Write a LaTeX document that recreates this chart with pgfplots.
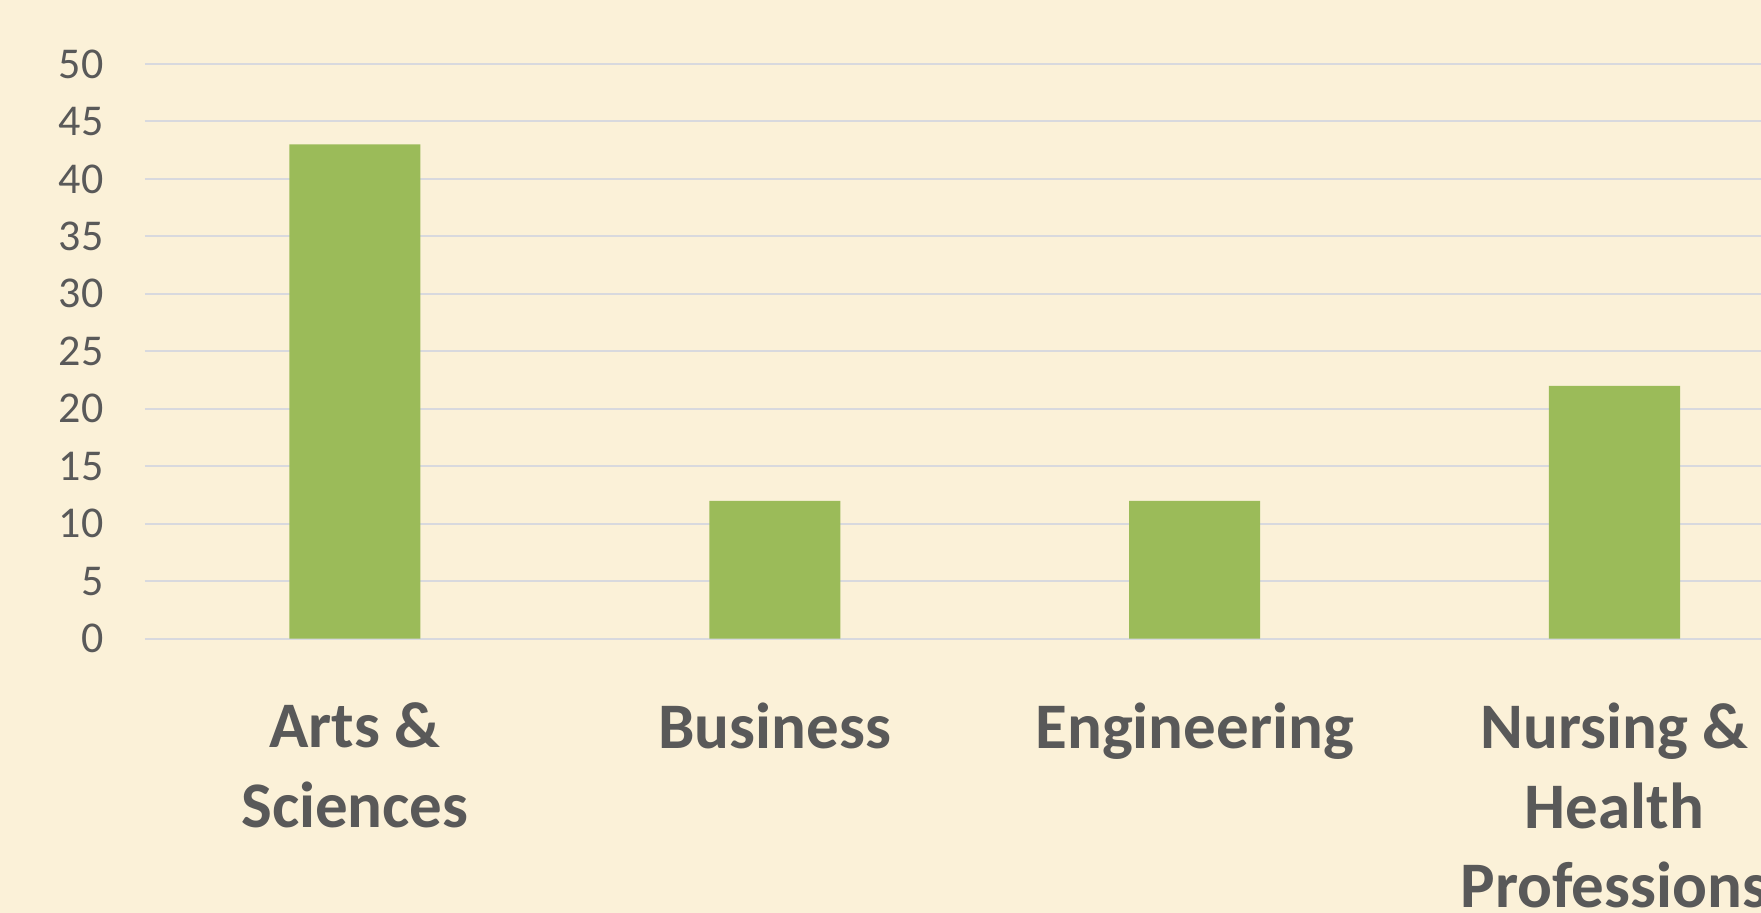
\documentclass[border=0pt]{standalone}
\usepackage{pgfplots}
\pgfplotsset{compat=1.18}
\usepackage{fontspec}
\setmainfont{Carlito}
\definecolor{bg}{RGB}{251,241,216}
\definecolor{barc}{RGB}{155,187,89}
\definecolor{gridc}{RGB}{216,217,222}
\definecolor{txt}{RGB}{89,89,89}
\begin{document}
\begin{tikzpicture}
\fill[bg] (0pt,0pt) rectangle (880.5pt,456.5pt);
\begin{axis}[
  at={(72.5pt,137.15pt)}, anchor=south west,
  scale only axis, width=808pt, height=287.35pt,
  xmin=-0.5, xmax=3.349, ymin=0, ymax=50,
  ytick={0,5,...,50},
  xtick={0,1,2,3},
  xticklabels={{Arts \&\\Sciences},{Business},{Engineering},{Nursing \&\\Health\\Professions}},
  axis line style={draw=none}, major tick length=0pt,
  ymajorgrids, grid style={draw=gridc, line width=1pt},
  ybar, bar width=65.5pt,
  /pgf/number format/assume math mode=true,
  yticklabel style={font=\fontsize{22}{26}\selectfont, text=txt, anchor=east, inner sep=0pt, xshift=-20.5pt},
  xticklabel style={font=\bfseries\fontsize{32.5}{39.7}\selectfont, text=txt, anchor=north, inner sep=0pt, yshift=-32pt, align=center},
]
\addplot[fill=barc, draw=none] coordinates {(0,43) (1,12) (2,12) (3,22)};
\end{axis}
\pgfresetboundingbox
\useasboundingbox (0pt,0pt) rectangle (880.5pt,456.5pt);
\end{tikzpicture}
\end{document}
